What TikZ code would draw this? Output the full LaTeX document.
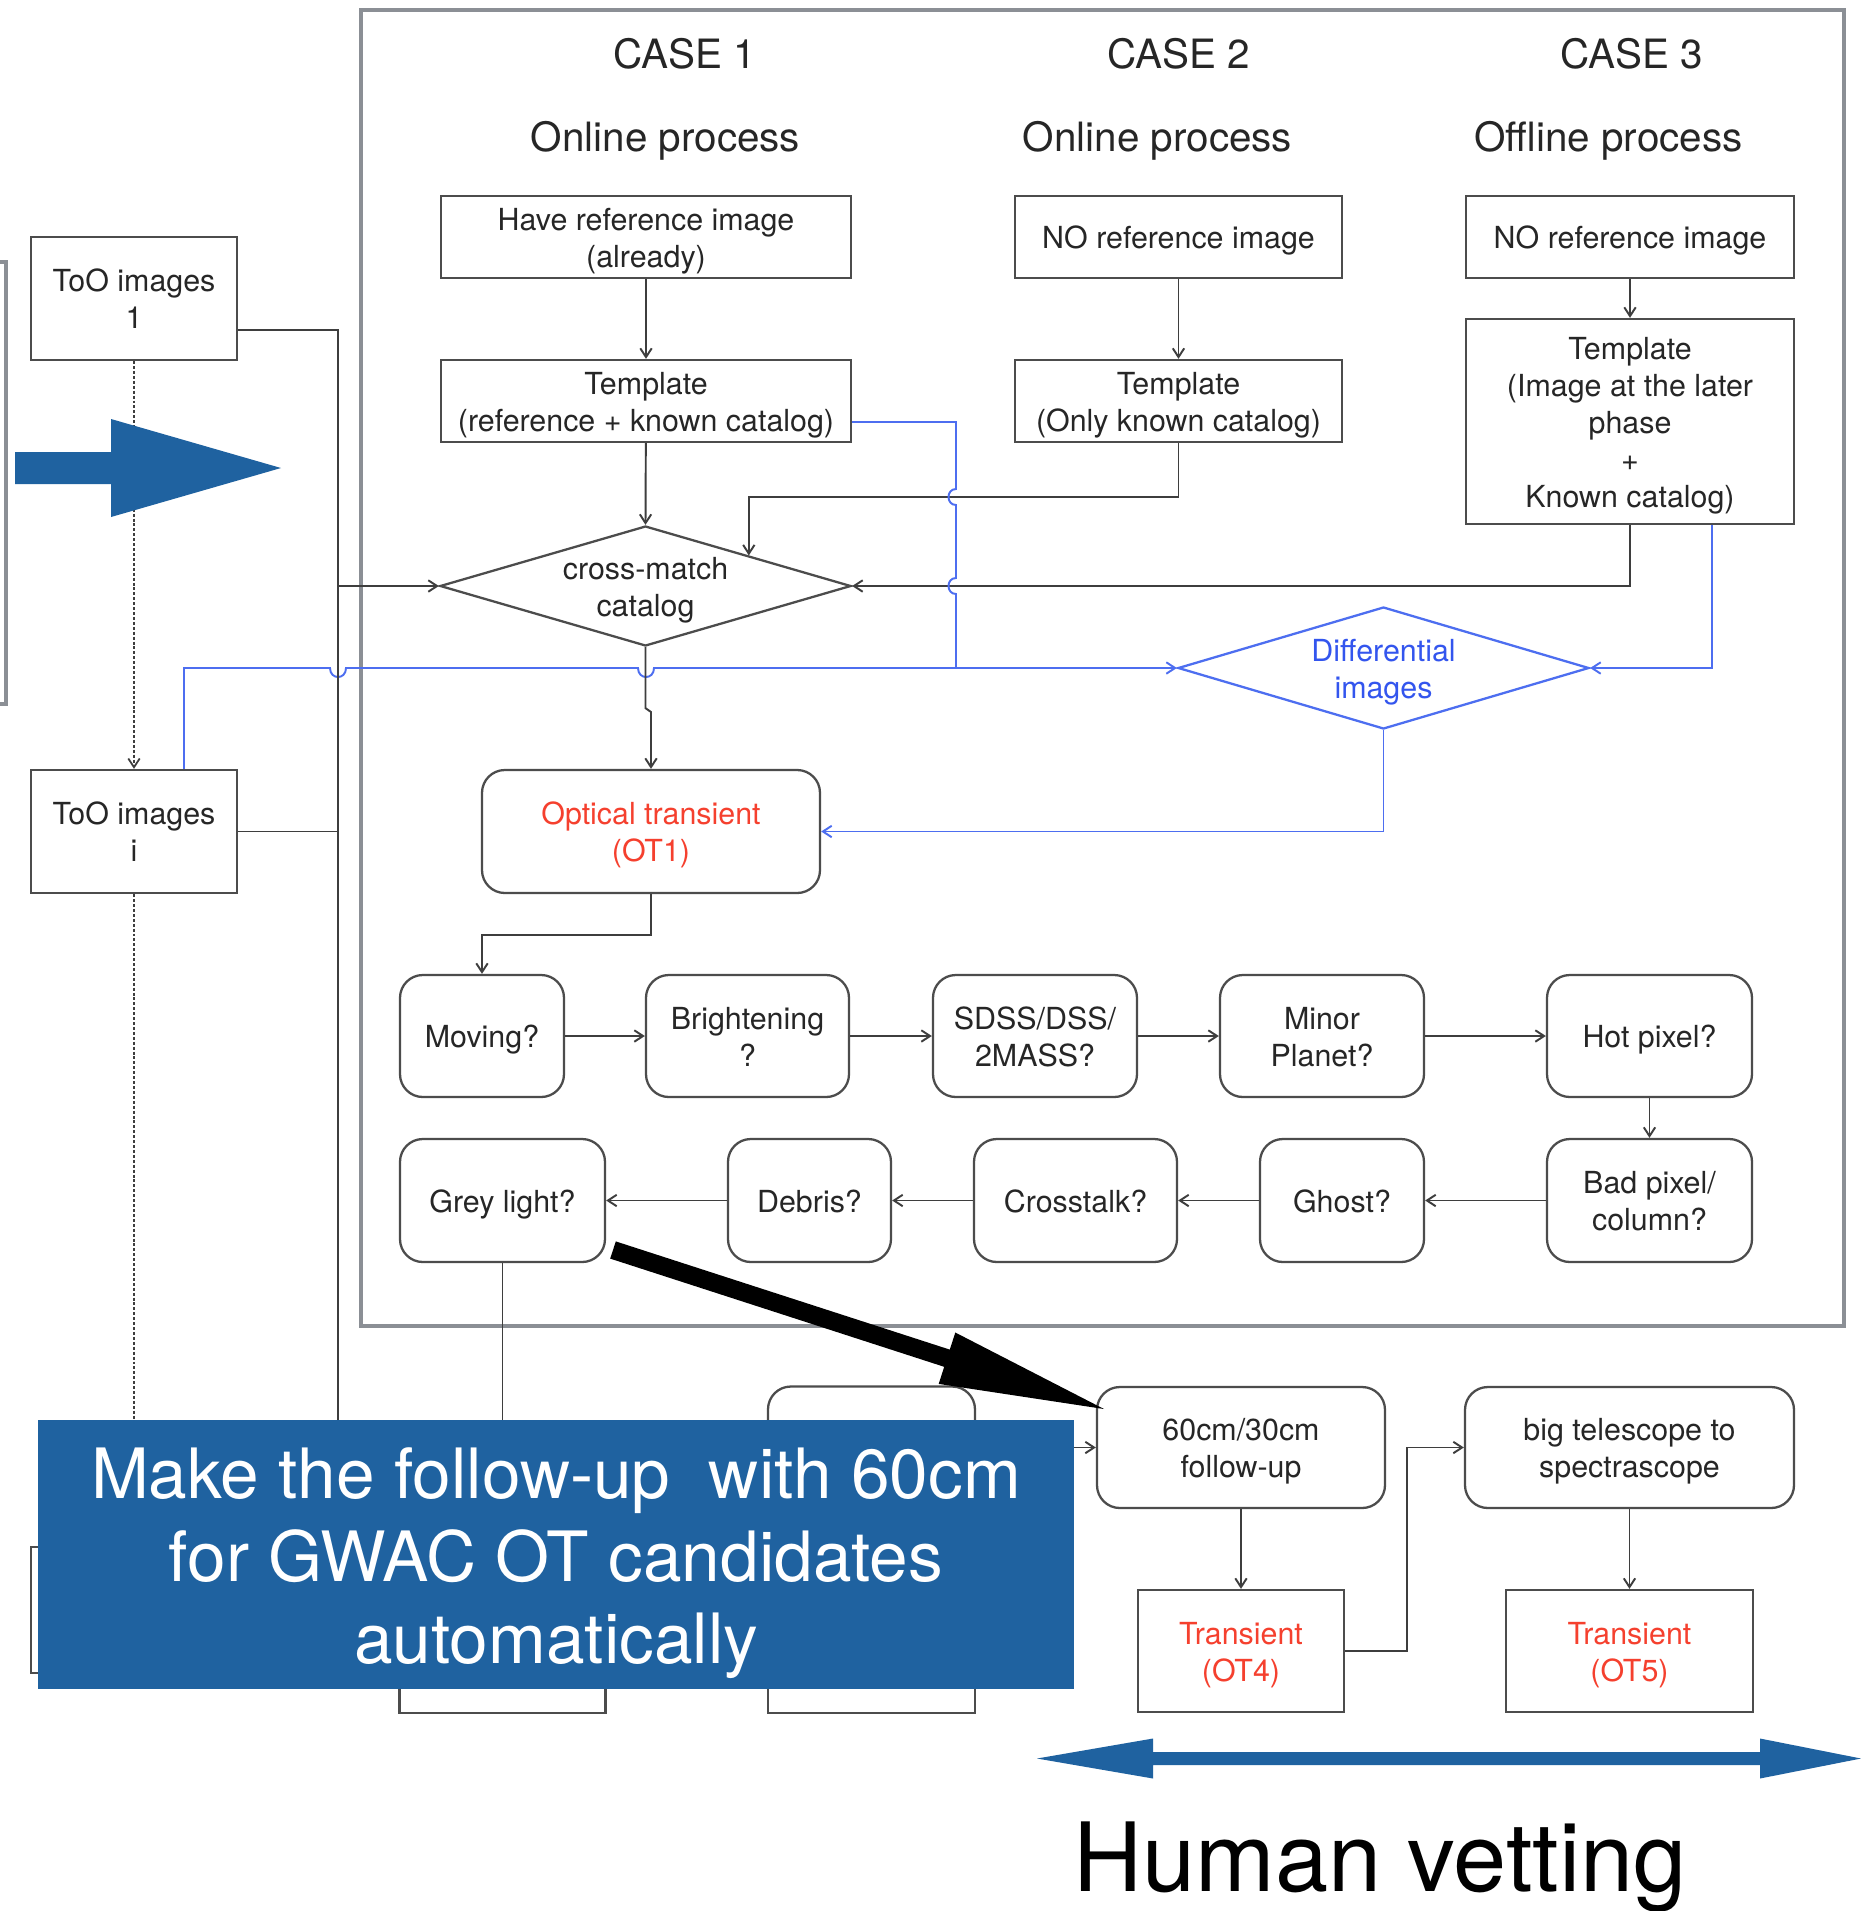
\documentclass[tikz,border=0pt]{standalone}
\usepackage{fontspec}
\setmainfont{TeX Gyre Heros}
\usetikzlibrary{shapes.geometric,arrows.meta}
\definecolor{boxc}{HTML}{4C4C4C}
\definecolor{linec}{HTML}{3E3E3E}
\definecolor{framec}{HTML}{8B8F95}
\definecolor{blln}{HTML}{4D6EF0}
\definecolor{bltxt}{HTML}{3355EE}
\definecolor{otred}{HTML}{F5402E}
\definecolor{fillblue}{HTML}{1F62A0}
\definecolor{txt}{HTML}{262626}
\newcommand\fsz{\fontsize{17.3pt}{21pt}\selectfont}
\newcommand\ttlf{\fontsize{23pt}{27pt}\selectfont}
\newcommand\bignotef{\fontsize{39.5pt}{46.8pt}\selectfont}
\newcommand\hvf{\fontsize{54.4pt}{60pt}\selectfont}
\newcommand\tstr{\rule{0pt}{17.9pt}}
\newcommand\bstr{\rule[-4.5pt]{0pt}{4.5pt}}
\newcommand\bt[1]{\tstr#1\bstr}
\begin{document}
\begin{tikzpicture}[x=0.02cm,y=-0.02cm,
  bx/.style={draw=boxc, line width=1.3pt, fill=white, align=center, inner sep=0pt, font=\fsz, text=txt},
  rbx/.style={bx, rounded corners=13pt},
  wh/.style 2 args={minimum width=#1*0.02cm, minimum height=#2*0.02cm},
  dia/.style={diamond, draw=boxc, line width=1.3pt, fill=white, inner sep=0pt},
  diatxt/.style={font=\fsz, align=center, inner sep=0pt},
  ttlst/.style={font=\ttlf, text=txt, anchor=base, inner sep=0pt},
  ln/.style={draw=linec, line width=1.1pt},
  arr/.style={ln, -{Straight Barb[length=5pt,width=6.5pt]}},
  bl/.style={draw=blln, line width=1.1pt},
  blarr/.style={bl, -{Straight Barb[length=5pt,width=6.5pt]}},
  dotl/.style={draw=linec, line width=1pt, dash pattern=on 1.7pt off 1.1pt},
  notetxt/.style={font=\bignotef, text=white, anchor=base, inner sep=0pt},
]
\useasboundingbox (0,0) rectangle (1861,1911);
\fill[white] (0,0) rectangle (1861,1911);
\clip (0,0) rectangle (1861,1911);

% frames
\draw[framec, line width=2.6pt] (361,10) rectangle (1844,1326);
\draw[framec, line width=1.9pt] (-40,262) rectangle (6,704);

% titles
\node[ttlst] (c1) at (685,68) {CASE 1};
\node[ttlst] (c2) at (1178.5,68) {CASE 2};
\node[ttlst] (c3) at (1631.5,68) {CASE 3};
\node[ttlst] (p1) at (665.5,151) {Online process};
\node[ttlst] (p2) at (1157.5,151) {Online process};
\node[ttlst] (p3) at (1608.5,151) {Offline process};

% left boxes
\node[bx, wh={206}{123}] (too1) at (134,298.5) {\bt{ToO images\\1}};
\node[bx, wh={206}{123}] (tooi) at (134,831.5) {\bt{ToO images\\i}};

% case boxes
\node[bx, wh={410}{82}] (have) at (646,237) {\bt{Have reference image\\(already)}};
\node[bx, wh={410}{82}] (t1) at (646,401) {\bt{Template\\(reference + known catalog)}};
\node[bx, wh={327}{82}] (no2) at (1178.5,237) {\bt{NO reference image}};
\node[bx, wh={327}{82}] (t2) at (1178.5,401) {\bt{Template\\(Only known catalog)}};
\node[bx, wh={328}{82}] (no3) at (1630,237) {\bt{NO reference image}};
\node[bx, wh={328}{205}] (t3) at (1630,421.5) {\bt{Template\\(Image at the later\\phase\\+\\Known catalog)}};

% diamonds
\node[dia, wh={411}{120}] (cm) at (645.5,586) {};
\node[diatxt, text=txt] (cmt) at (cm) {\bt{cross-match\\catalog}};
\node[dia, draw=blln, wh={411}{122}] (diff) at (1383.5,668) {};
\node[diatxt, text=bltxt] (difft) at (diff) {\bt{Differential\\images}};

% optical transient
\node[rbx, wh={338}{123}, text=otred] (ot) at (651,831.5) {\bt{Optical transient\\(OT1)}};

% row 1
\node[rbx, wh={164}{122}] (mov) at (482,1036) {\bt{Moving?}};
\node[rbx, wh={203}{122}] (bri) at (747.5,1036) {\bt{Brightening\\?}};
\node[rbx, wh={204}{122}] (sdss) at (1035,1036) {\bt{SDSS/DSS/\\2MASS?}};
\node[rbx, wh={204}{122}] (minor) at (1322,1036) {\bt{Minor\\Planet?}};
\node[rbx, wh={205}{122}] (hot) at (1649.5,1036) {\bt{Hot pixel?}};
% row 2
\node[rbx, wh={205}{123}] (grey) at (502.5,1200.5) {\bt{Grey light?}};
\node[rbx, wh={163}{123}] (deb) at (809.5,1200.5) {\bt{Debris?}};
\node[rbx, wh={203}{123}] (cross) at (1075.5,1200.5) {\bt{Crosstalk?}};
\node[rbx, wh={164}{123}] (ghost) at (1342,1200.5) {\bt{Ghost?}};
\node[rbx, wh={205}{123}] (bad) at (1649.5,1200.5) {\bt{Bad pixel/\\column?}};

% bottom
\node[rbx, wh={288}{121}] (f60) at (1241,1447.5) {\bt{60cm/30cm\\follow-up}};
\node[rbx, wh={329}{121}] (big) at (1629.5,1447.5) {\bt{big telescope to\\spectrascope}};
\node[bx, wh={206}{122}, text=otred] (ot4) at (1241,1651) {\bt{Transient\\(OT4)}};
\node[bx, wh={247}{122}, text=otred] (ot5) at (1629.5,1651) {\bt{Transient\\(OT5)}};

% boxes partly hidden behind the note
\node[rbx, wh={207}{122}] (hid1) at (871.5,1447.5) {};
\node[bx, wh={207}{123}] (hid2) at (871.5,1651.5) {};
\node[bx, wh={206}{123}] (hid3) at (502.5,1651.5) {};
\node[bx, wh={206}{126}] (hid4) at (134,1610) {};

% connectors
\draw[arr] (have) -- (t1);
\draw[arr] (t1) -- (cm.north);
\draw[arr] (no2) -- (t2);
\draw[arr] (t2.south) -- (t2.south |- 0,497) -| (cm.north east);
\draw[arr] (no3) -- (t3);
\draw[arr] (t3.south) |- (cm.east);
\draw[blarr] (t3.south -| 1712,0) |- (diff.east);
\draw[bl] (t1.east |- 0,422) -- (956,422) -- (956,489) .. controls (946,489) and (946,505) .. (956,505) -- (956,578) .. controls (946,578) and (946,594) .. (956,594) -- (956,668);
\draw[blarr] (tooi.north -| 184,0) -- (184,668) -- (330,668) .. controls (330,680) and (346,680) .. (346,668) -- (638,668) .. controls (638,680) and (654,680) .. (654,668) -- (diff.west);
\draw[blarr] (diff.south) |- (ot.east);
\draw[arr] (cm.south) -- ++(0,61) -- (ot.north |- 0,712) -- (ot.north);
\draw[arr] (ot.south) -- (ot.south |- 0,935) -| (mov.north);

\coordinate (busT) at (338,330);
\coordinate (busB) at (338,1440);
\draw[ln] (too1.east |- busT) -- (busT) -- (busB);
\draw[ln] (tooi.east) -- (tooi.east -| busT);
\draw[arr] (cm.west -| busT) -- (cm.west);

\draw[dotl, -{Straight Barb[length=5pt,width=6.5pt]}] (too1) -- (tooi);
\draw[dotl] (tooi) -- (hid4);

\draw[arr] (mov) -- (bri);
\draw[arr] (bri) -- (sdss);
\draw[arr] (sdss) -- (minor);
\draw[arr] (minor) -- (hot);
\draw[arr] (hot) -- (bad);
\draw[arr] (bad) -- (ghost);
\draw[arr] (ghost) -- (cross);
\draw[arr] (cross) -- (deb);
\draw[arr] (deb) -- (grey);
\draw[arr] (grey) -- (hid3);

\draw[arr] (hid1) -- (f60);
\draw[arr] (f60) -- (ot4);
\draw[arr] (ot4.east) -- ++(62,0) |- (big.west);
\draw[arr] (big) -- (ot5);

% note box
\node[fill=fillblue, inner sep=0pt, wh={1036}{269}] (note) at (556,1554.5) {};
\node[notetxt] (n1) at (556,1498) {Make the follow-up\ \ with 60cm};
\node[notetxt] (n2) at (556,1581) {for GWAC OT candidates};
\node[notetxt] (n3) at (556,1663) {automatically};

% big arrows
\fill[black] (615.8,1241.4) -- (949.8,1349.6) -- (955.3,1332.5) -- (1104,1409) -- (938.7,1383.9) -- (944.2,1366.8) -- (610.2,1258.6) -- cycle;
\fill[fillblue] (15,452) -- (111,452) -- (111,419) -- (281,468) -- (111,517) -- (111,484) -- (15,484) -- cycle;
\fill[fillblue] (1037,1758.5) -- (1153,1738.5) -- (1153,1752) -- (1760,1752) -- (1760,1738.5) -- (1861,1758.5) -- (1760,1778.5) -- (1760,1765) -- (1153,1765) -- (1153,1778.5) -- cycle;

\node[font=\hvf, anchor=base west, inner sep=0pt] (hv) at (1073,1891.5) {Human vetting};
\end{tikzpicture}
\end{document}
